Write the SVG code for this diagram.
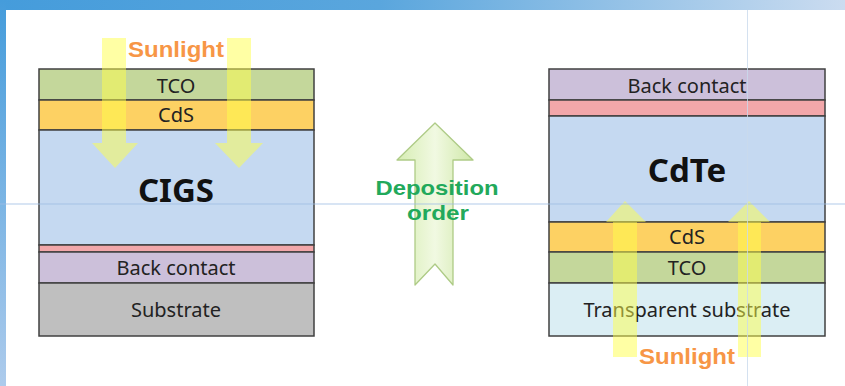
<svg xmlns="http://www.w3.org/2000/svg" width="845" height="386" viewBox="0 0 845 386">
<defs>
<linearGradient id="topbar" x1="0" y1="0" x2="1" y2="0">
<stop offset="0" stop-color="#459cdb"/>
<stop offset="0.45" stop-color="#5aa6dd"/>
<stop offset="1" stop-color="#cbdcf0"/>
</linearGradient>
<linearGradient id="sidebar" x1="0" y1="0" x2="0" y2="1">
<stop offset="0" stop-color="#459cdb"/>
<stop offset="1" stop-color="#adcbec"/>
</linearGradient>
<linearGradient id="dep" x1="0" y1="0" x2="1" y2="0">
<stop offset="0" stop-color="#d6edb2"/>
<stop offset="0.5" stop-color="#f1f9e2"/>
<stop offset="1" stop-color="#cfe8a8"/>
</linearGradient>
<style>
.lay{stroke:#404040;stroke-width:1.5}
.tco{fill:#c4d79b}
.cds{fill:#fdd163}
.abs{fill:#c5d9f1}
.pink{fill:#f2a7aa}
.back{fill:#ccc0da}
.sub{fill:#bfbfbf}
.tsub{fill:#dbeef4}
.lt{font-family:"Noto Sans","Open Sans",sans-serif;font-size:20px;fill:#222;text-anchor:middle}
.big{font-family:"Noto Sans","Open Sans",sans-serif;font-size:33px;font-weight:bold;fill:#111;text-anchor:middle}
.sun{font-family:"Liberation Sans",Arial,sans-serif;font-size:22px;font-weight:bold;fill:#f79646;text-anchor:middle}
.dep{font-family:"Liberation Sans",Arial,sans-serif;font-size:21px;font-weight:bold;fill:#22a95b;text-anchor:middle}
.ray{fill:#ffff4a;fill-opacity:0.5}
.guide{stroke-width:1;fill:none}
</style>
</defs>
<rect x="0" y="0" width="845" height="386" fill="#ffffff"/>
<rect x="0" y="0" width="845" height="10" fill="url(#topbar)"/>
<rect x="0" y="0" width="6" height="386" fill="url(#sidebar)"/>

<g id="cigs-stack">
<g id="cigs-tco"><rect class="lay tco" x="39" y="69" width="275" height="31"/><text class="lt" x="176" y="93">TCO</text></g>
<g id="cigs-cds"><rect class="lay cds" x="39" y="100" width="275" height="30"/><text class="lt" x="176" y="122">CdS</text></g>
<g id="cigs-absorber"><rect class="lay abs" x="39" y="130" width="275" height="115"/><text class="big" x="176" y="202">CIGS</text></g>
<g id="cigs-buffer"><rect class="lay pink" x="39" y="245" width="275" height="7"/></g>
<g id="cigs-back"><rect class="lay back" x="39" y="252" width="275" height="31"/><text class="lt" x="176" y="275">Back contact</text></g>
<g id="cigs-substrate"><rect class="lay sub" x="39" y="283" width="275" height="53"/><text class="lt" x="176" y="317">Substrate</text></g>
</g>

<g id="cdte-stack">
<g id="cdte-back"><rect class="lay back" x="549" y="69" width="276" height="31"/><text class="lt" x="687" y="93">Back contact</text></g>
<g id="cdte-buffer"><rect class="lay pink" x="549" y="100" width="276" height="16"/></g>
<g id="cdte-absorber"><rect class="lay abs" x="549" y="116" width="276" height="106"/><text class="big" x="687" y="182">CdTe</text></g>
<g id="cdte-cds"><rect class="lay cds" x="549" y="222" width="276" height="30"/><text class="lt" x="687" y="244">CdS</text></g>
<g id="cdte-tco"><rect class="lay tco" x="549" y="252" width="276" height="31"/><text class="lt" x="687" y="275">TCO</text></g>
<g id="cdte-substrate"><rect class="lay tsub" x="549" y="283" width="276" height="53"/><text class="lt" x="687" y="317">Transparent substrate</text></g>
</g>

<g id="connectors">
<g id="sun-left">
<polygon class="ray" points="102,38 126,38 126,143 138,143 115,168 92,143 102,143"/>
<polygon class="ray" points="227,38 251,38 251,143 263,143 239,168 215,143 227,143"/>
<text class="sun" x="176" y="57" textLength="96" lengthAdjust="spacingAndGlyphs">Sunlight</text>
</g>
<g id="sun-right">
<polygon class="ray" points="613,357 637,357 637,222 646,222 625,201 606,222 613,222"/>
<polygon class="ray" points="738,357 761,357 761,222 770,222 749,201 728,222 738,222"/>
<text class="sun" x="687" y="364" textLength="96" lengthAdjust="spacingAndGlyphs">Sunlight</text>
</g>
<g id="deposition-order">
<polygon points="435,123 473,160 453,160 453,285 435,264 415,285 415,160 397,160" fill="url(#dep)" stroke="#aecb86" stroke-width="1.3" stroke-linejoin="round"/>
<text class="dep" x="437" y="195" textLength="123" lengthAdjust="spacingAndGlyphs">Deposition</text>
<text class="dep" x="438" y="220" textLength="62" lengthAdjust="spacingAndGlyphs">order</text>
</g>
</g>

<line class="guide" x1="0" y1="204" x2="845" y2="204" stroke="#9fbde3" stroke-opacity="0.8"/>
<line class="guide" x1="747.5" y1="10" x2="747.5" y2="386" stroke="#c9d9ec" stroke-opacity="0.8"/>
</svg>
